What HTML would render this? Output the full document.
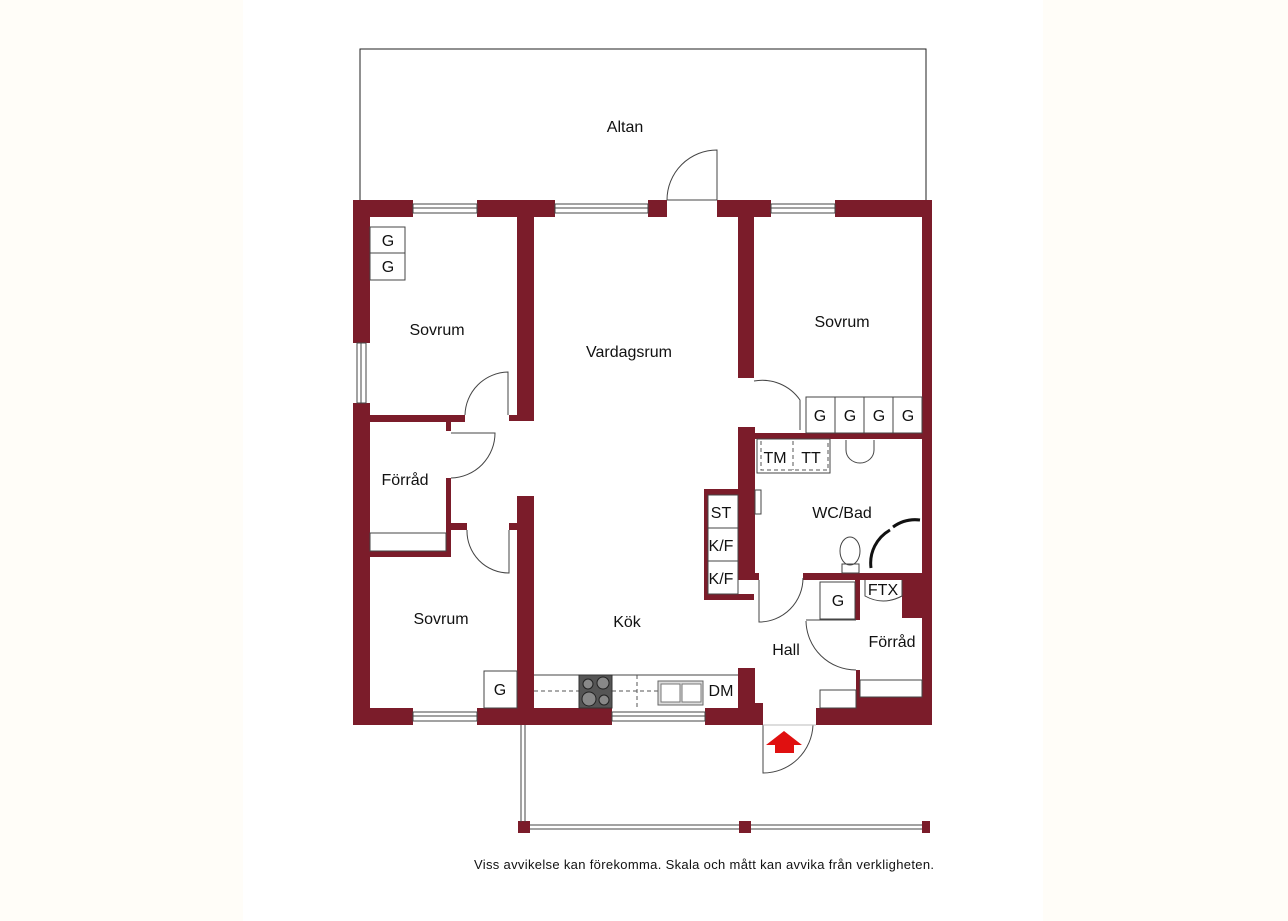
<!DOCTYPE html>
<html><head><meta charset="utf-8"><style>
html,body{margin:0;padding:0;background:#fffdf8;}
#pg{position:absolute;left:243px;top:0;width:800px;height:921px;background:#fff;}
svg{position:absolute;left:0;top:0;}
text{font-family:"Liberation Sans",sans-serif;fill:#111;}
</style></head><body>
<div id="pg"></div>
<svg width="1288" height="921" viewBox="0 0 1288 921" xmlns="http://www.w3.org/2000/svg">
<g fill="none" stroke="#222" stroke-width="1">
<path d="M360 200 V49 H926 V200"/>
</g>
<g fill="#7b1c2a">
<rect x="353" y="200" width="60" height="17"/>
<rect x="477" y="200" width="78" height="17"/>
<rect x="648" y="200" width="19" height="17"/>
<rect x="717" y="200" width="54" height="17"/>
<rect x="835" y="200" width="97" height="17"/>
<rect x="353" y="200" width="17" height="143"/>
<rect x="353" y="403" width="17" height="322"/>
<rect x="922" y="200" width="10" height="525"/>
<rect x="353" y="708" width="60" height="17"/>
<rect x="477" y="708" width="135" height="17"/>
<rect x="705" y="708" width="58" height="17"/>
<rect x="816" y="708" width="116" height="17"/>
<rect x="856" y="697" width="76" height="12"/>
<rect x="517" y="217" width="17" height="204"/>
<rect x="370" y="415" width="95" height="7"/>
<rect x="509" y="415" width="25" height="6"/>
<rect x="446" y="421" width="5" height="10"/>
<rect x="446" y="478" width="5" height="79"/>
<rect x="370" y="551" width="81" height="6"/>
<rect x="450" y="523" width="17" height="7"/>
<rect x="509" y="523" width="10" height="7"/>
<rect x="517" y="496" width="17" height="212"/>
<rect x="738" y="217" width="16" height="161"/>
<rect x="738" y="427" width="17" height="151"/>
<rect x="738" y="433" width="184" height="6"/>
<rect x="704" y="489" width="34" height="6"/>
<rect x="704" y="594" width="50" height="6"/>
<rect x="704" y="489" width="4" height="111"/>
<rect x="738" y="573" width="21" height="7"/>
<rect x="803" y="573" width="119" height="7"/>
<rect x="855" y="580" width="5" height="40"/>
<rect x="902" y="580" width="20" height="38"/>
<rect x="856" y="670" width="4" height="30"/>
<rect x="738" y="668" width="17" height="40"/>
<rect x="738" y="703" width="25" height="5"/>
<rect x="518" y="821" width="12" height="12"/>
<rect x="739" y="821" width="12" height="12"/>
<rect x="922" y="821" width="8" height="12"/>
</g>
<g fill="none" stroke="#444" stroke-width="1">
<rect x="413" y="204" width="64" height="9"/><line x1="413" y1="208" x2="477" y2="208"/>
<rect x="555" y="204" width="93" height="9"/><line x1="555" y1="208" x2="648" y2="208"/>
<rect x="771" y="204" width="64" height="9"/><line x1="771" y1="208" x2="835" y2="208"/>
<rect x="357" y="343" width="9" height="60"/><line x1="361" y1="343" x2="361" y2="403"/>
<rect x="413" y="712" width="64" height="9"/><line x1="413" y1="716" x2="477" y2="716"/>
<rect x="612" y="712" width="93" height="9"/><line x1="612" y1="716" x2="705" y2="716"/>
<line x1="667" y1="200" x2="717" y2="200"/>
<path d="M717 200 V150 A50 50 0 0 0 667 200"/>
<path d="M508 415 V372 A44 44 0 0 0 465 415"/>
<path d="M451 433 H495 A45 45 0 0 1 451 478"/>
<path d="M509 530 V573 A42 42 0 0 1 467 530"/>
<path d="M800 430 V400 A46 46 0 0 0 754 381"/>
<path d="M759 580 V622 A44 44 0 0 0 803 578"/>
<path d="M806 620 H856 M806 621 A50 50 0 0 0 856 670"/>
<path d="M763 725 V773 A50 50 0 0 0 813 725"/>
<line x1="763" y1="725" x2="816" y2="725" stroke="#bbb"/>
<rect x="370" y="227" width="35" height="26"/><rect x="370" y="253" width="35" height="27"/>
<rect x="806" y="397" width="29" height="36"/><rect x="835" y="397" width="29" height="36"/><rect x="864" y="397" width="29" height="36"/><rect x="893" y="397" width="29" height="36"/>
<rect x="708" y="495" width="30" height="33"/><rect x="708" y="528" width="30" height="33"/><rect x="708" y="561" width="30" height="33"/>
<rect x="757" y="439" width="73" height="34"/>
<rect x="820" y="582" width="35" height="37"/>
<path d="M865 580 V596 Q883 606 902 596 V580"/>
<rect x="370" y="533" width="76" height="18"/>
<rect x="860" y="680" width="62" height="17"/>
<rect x="820" y="690" width="36" height="18"/>
<rect x="484" y="671" width="33" height="37"/>
<line x1="534" y1="675" x2="738" y2="675"/>
<rect x="755" y="490" width="6" height="24"/>
<path d="M521 725 V822 M525 725 V822"/>
<path d="M530 825 H739 M530 829 H739 M751 825 H922 M751 829 H922"/>
</g>
<g fill="none" stroke="#555" stroke-dasharray="4 3">
<line x1="534" y1="691" x2="579" y2="691"/><line x1="612" y1="691" x2="658" y2="691"/>
<line x1="637" y1="675" x2="637" y2="708"/>
<path d="M761 441 V470 H828 V441 M793 441 V470"/>
</g>
<rect x="579" y="675" width="33" height="33" fill="#555" stroke="#333"/>
<g fill="#888" stroke="#222"><circle cx="588" cy="684" r="5"/><circle cx="603" cy="683" r="6"/><circle cx="589" cy="699" r="7"/><circle cx="604" cy="700" r="5"/></g>
<rect x="658" y="681" width="45" height="24" fill="#ddd" stroke="#666"/>
<rect x="661" y="684" width="19" height="18" fill="#fff" stroke="#777"/><rect x="682" y="684" width="19" height="18" fill="#fff" stroke="#777"/>
<path d="M846 440 V450 A14 13 0 0 0 874 450 V440" fill="none" stroke="#444"/>
<ellipse cx="850" cy="551" rx="10" ry="14" fill="none" stroke="#444"/>
<rect x="842" y="564" width="17" height="9" fill="none" stroke="#444"/>
<path d="M871 568 A38 38 0 0 1 890 530 M893 527 A38 38 0 0 1 920 520" fill="none" stroke="#111" stroke-width="3"/>
<polygon points="784,731 802,745 794,745 794,753 775,753 775,745 766,745" fill="#e01010"/>
<g font-size="16" text-anchor="middle">
<text x="625" y="132">Altan</text>
<text x="437" y="335">Sovrum</text>
<text x="629" y="357">Vardagsrum</text>
<text x="842" y="327">Sovrum</text>
<text x="405" y="485">Förråd</text>
<text x="842" y="518">WC/Bad</text>
<text x="441" y="624">Sovrum</text>
<text x="627" y="627">Kök</text>
<text x="786" y="655">Hall</text>
<text x="892" y="647">Förråd</text>
<text x="388" y="246">G</text><text x="388" y="272">G</text>
<text x="820" y="421">G</text><text x="850" y="421">G</text><text x="879" y="421">G</text><text x="908" y="421">G</text>
<text x="721" y="518">ST</text><text x="721" y="551">K/F</text><text x="721" y="584">K/F</text>
<text x="775" y="463">TM</text><text x="811" y="463">TT</text>
<text x="838" y="606">G</text><text x="883" y="595">FTX</text>
<text x="500" y="695">G</text><text x="721" y="696">DM</text>
</g>
<text x="704" y="869" font-size="13" text-anchor="middle" textLength="460">Viss avvikelse kan förekomma. Skala och mått kan avvika från verkligheten.</text>
</svg>
</body></html>
